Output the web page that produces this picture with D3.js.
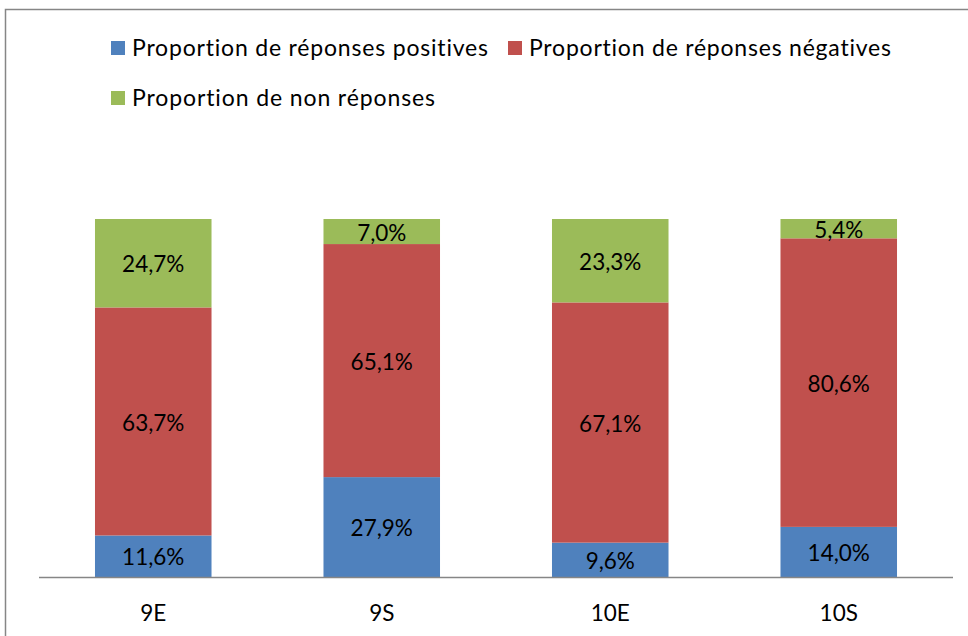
<!DOCTYPE html>
<html><head><meta charset="utf-8">
<script src="https://cdn.jsdelivr.net/npm/d3@7"></script>
<style>body{margin:0;background:#fff}svg{display:block}text{font-family:Lato,"Open Sans",sans-serif;fill:#000;font-variant-ligatures:none;font-feature-settings:"liga" 0,"clig" 0}</style>
</head><body>
<script>
const categories = ["9E","9S","10E","10S"];
const positives = [11.6, 27.9, 9.6, 14.0];
const negatives = [63.7, 65.1, 67.1, 80.6];
const nonReponses = [24.7, 7.0, 23.3, 5.4];
const seriesNames = ["Proportion de réponses positives","Proportion de réponses négatives","Proportion de non réponses"];
const seriesKeys = ["pos","neg","non"];
const colors = ["#4F81BD","#C0504D","#9BBB59"];

const W = 968, H = 636;
const svg = d3.select("body").append("svg").attr("width", W).attr("height", H);
svg.append("rect").attr("x",5.5).attr("y",9.5).attr("width",W).attr("height",H).attr("fill","#fff").attr("stroke","#868686").attr("stroke-width",1.5);

const data = categories.map((c,i)=>({cat:c,pos:positives[i],neg:negatives[i],non:nonReponses[i]}));
const stack = d3.stack().keys(seriesKeys)(data);

const x = d3.scaleBand().domain(categories).range([39,953]).paddingInner(0.49).paddingOuter(0.245);
const y = d3.scaleLinear().domain([0,100]).range([577,219]);
const fmt = v => d3.format(".1f")(v).replace(".", ",") + "%";

stack.forEach((s,si)=>{
  const g = svg.append("g");
  g.selectAll("rect").data(s).join("rect")
    .attr("x", d=>x(d.data.cat)).attr("width", x.bandwidth())
    .attr("y", d=>y(d[1])).attr("height", d=>y(d[0])-y(d[1]))
    .attr("fill", colors[si]);
  g.selectAll("text").data(s).join("text")
    .attr("x", d=>x(d.data.cat)+x.bandwidth()/2)
    .attr("y", d=>(y(d[0])+y(d[1]))/2 + 1)
    .attr("dy","0.36em").attr("text-anchor","middle").attr("font-size",22.5)
    .text(d=>fmt(d[1]-d[0]));
});

const xAxis = svg.append("g").attr("transform","translate(0,577)")
  .call(d3.axisBottom(x).tickSize(0).tickPadding(28).tickSizeOuter(0));
xAxis.select(".domain").attr("stroke","#868686").attr("stroke-width",1.5).attr("d","M39,0.5H953");
xAxis.selectAll("text").attr("font-size",22.5).attr("font-family","Lato,sans-serif").attr("fill","#000");

const legendPos = [[111,41],[508,41],[111,91]];
const legendWidths = [356, 362, 303];
seriesNames.forEach((n,i)=>{
  const g = svg.append("g").attr("transform",`translate(${legendPos[i][0]},${legendPos[i][1]})`);
  g.append("rect").attr("width",14).attr("height",14).attr("fill",colors[i]);
  g.append("text").attr("x",21).attr("y",7).attr("dy","0.36em").attr("font-size",23)
    .attr("textLength",legendWidths[i]).attr("lengthAdjust","spacing").text(n);
});
</script>
</body></html>
